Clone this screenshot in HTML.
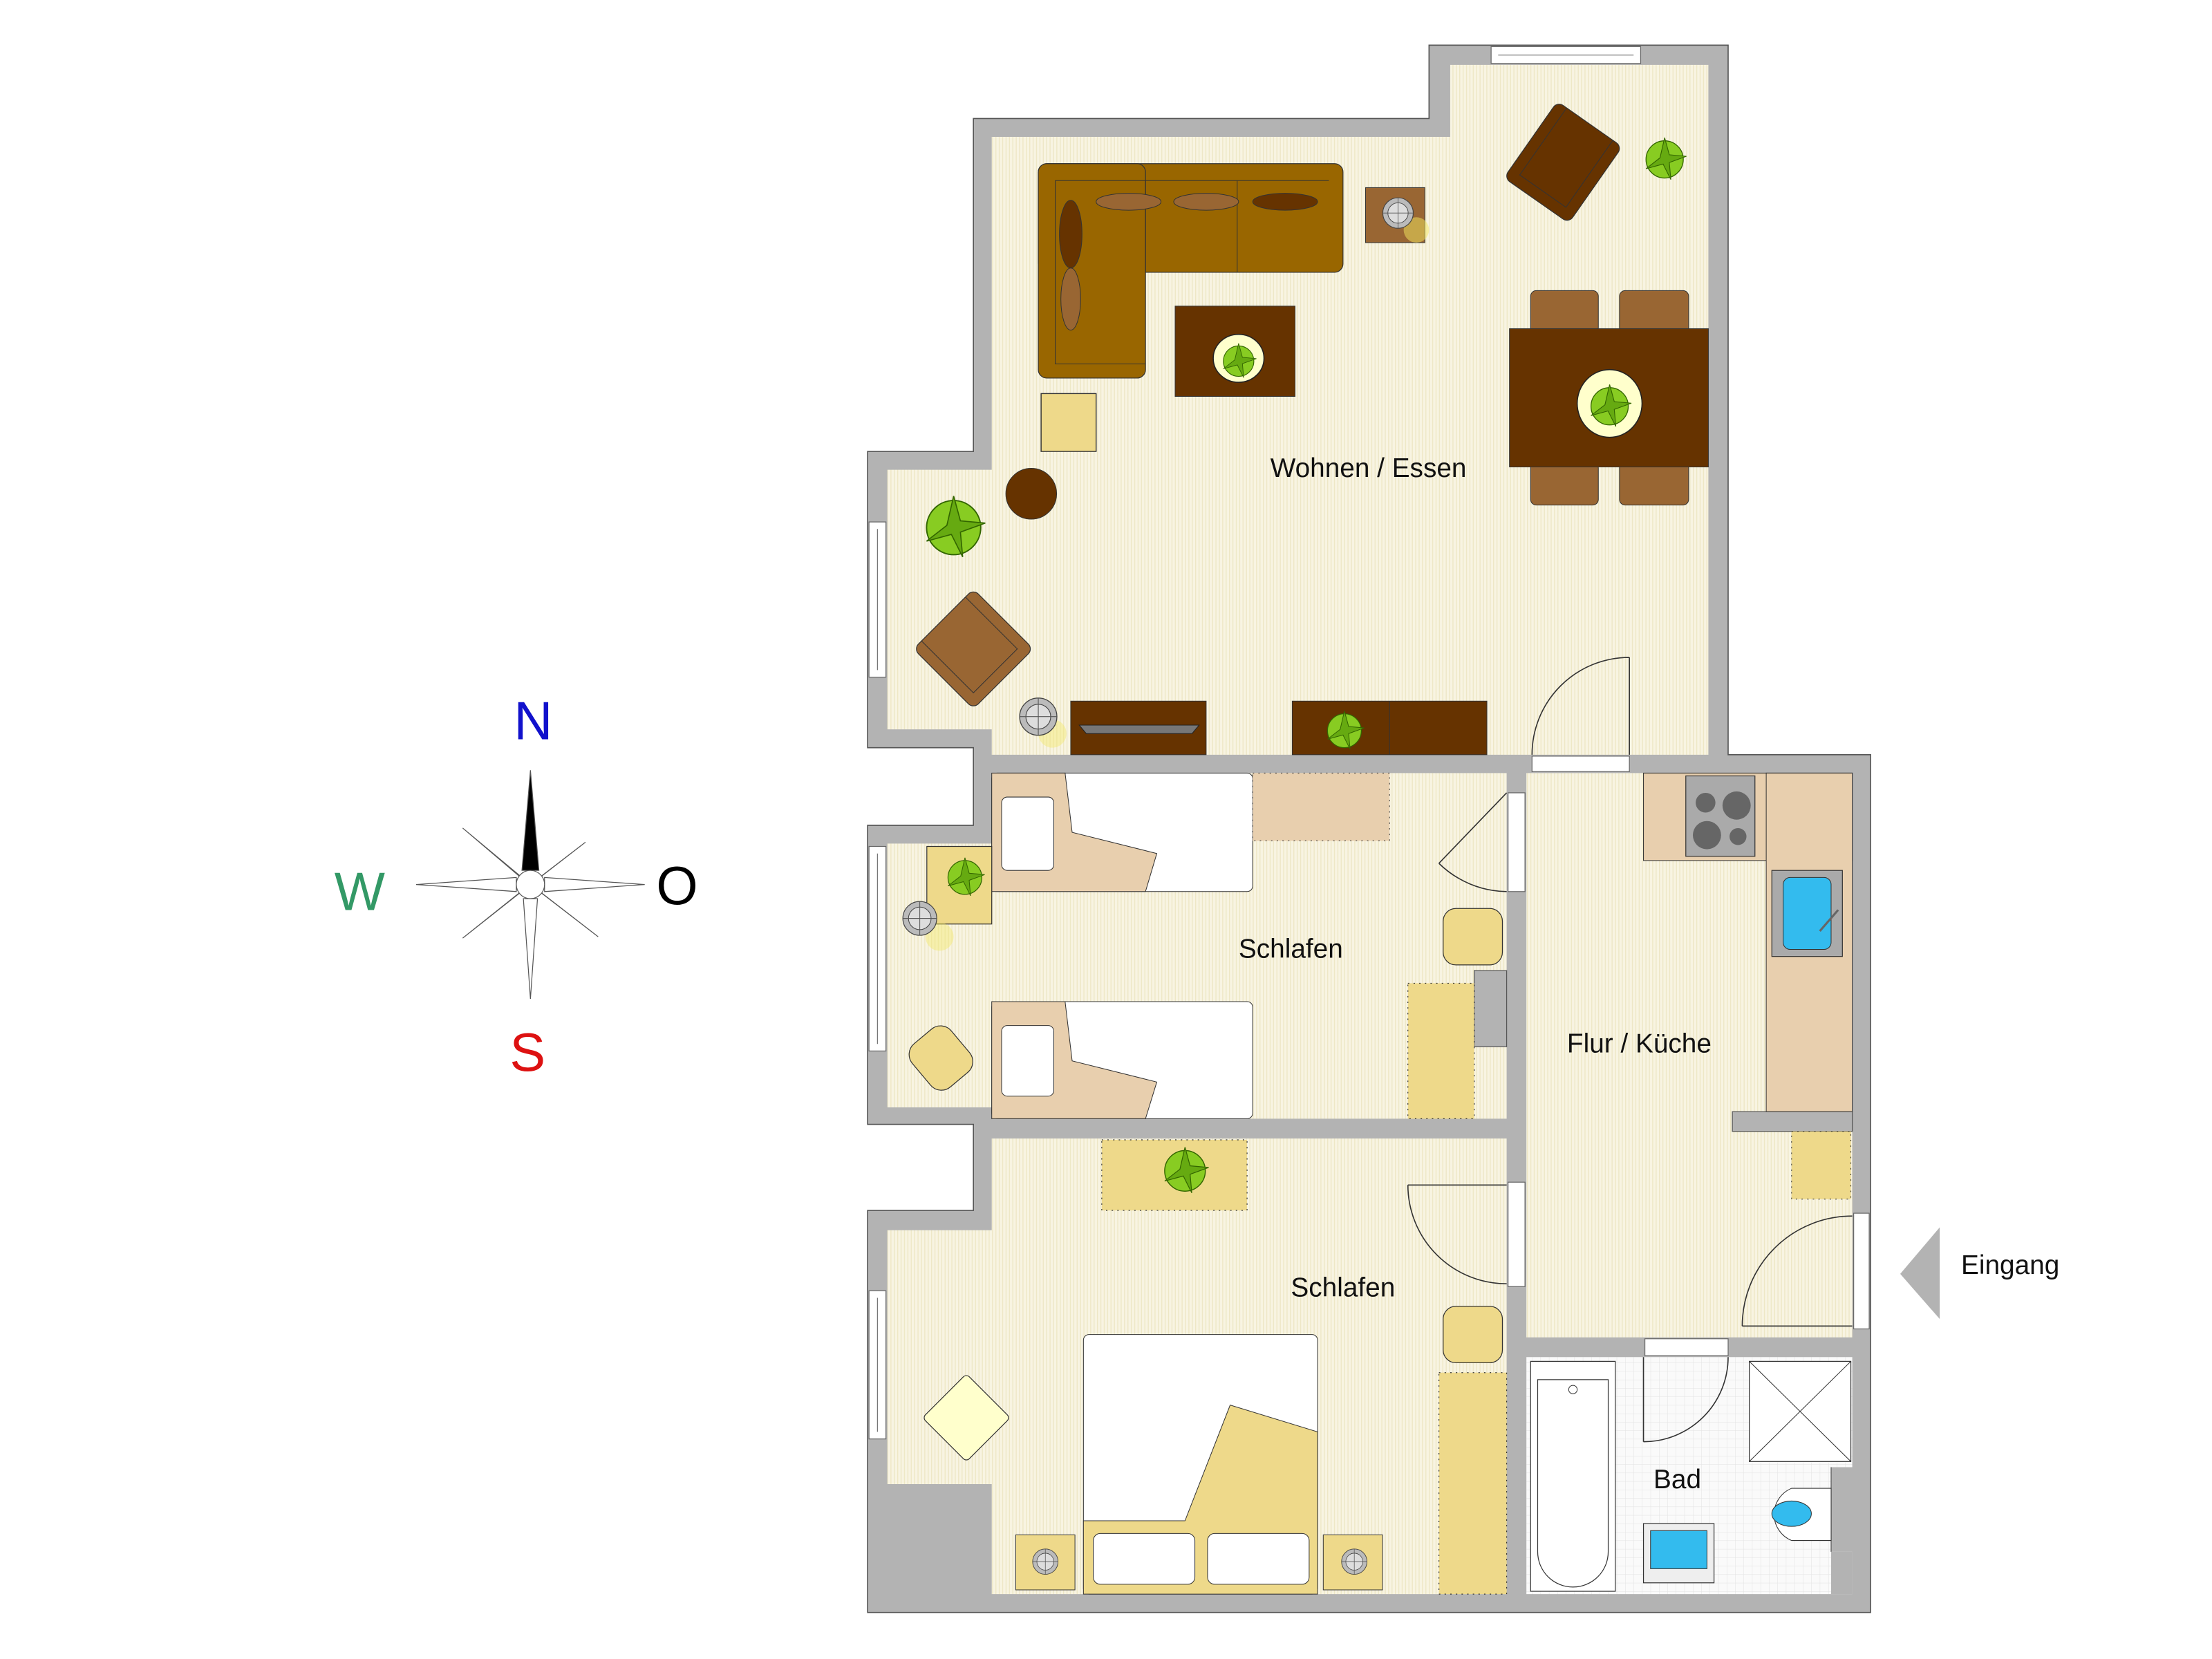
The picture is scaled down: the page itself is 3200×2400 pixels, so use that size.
<!DOCTYPE html>
<html><head><meta charset="utf-8"><style>
html,body{margin:0;padding:0;background:#fff;}
svg{display:block;}
text{font-family:"Liberation Sans",sans-serif;}
</style></head><body>
<svg width="3200" height="2400" viewBox="0 0 1568 1176" xmlns="http://www.w3.org/2000/svg">
<defs>
<pattern id="fl" width="2.4" height="10" patternUnits="userSpaceOnUse">
<rect width="2.4" height="10" fill="#f8f4e2"/><rect width="0.7" height="10" fill="#eee7c6"/>
</pattern>
<pattern id="tile" width="6" height="6" patternUnits="userSpaceOnUse">
<rect width="6" height="6" fill="#fafafa"/><path d="M0 0H6M0 0V6" stroke="#e2e2e2" stroke-width="0.5"/>
</pattern>
<g id="plant">
<circle r="12" fill="#88cc22" stroke="#336600" stroke-width="0.6"/>
<path d="M0-14 L3-3 L14-2 L3 2 L4 13 L-1 3 L-12 6 L-3 -1Z" fill="#66aa11" stroke="#336600" stroke-width="0.5"/>
</g>
<g id="lamp">
<circle r="12" fill="#bbb" stroke="#444" stroke-width="0.6"/>
<circle r="8" fill="#ddd" stroke="#444" stroke-width="0.5"/>
<path d="M-12 0H12M0-12V12" stroke="#555" stroke-width="0.5"/>
</g>
</defs>

<path d="M690 84 H1013 V32 H1225 V535 H1326 V1143 H615 V858 H690 V797 H615 V585 H690 V530 H615 V320 H690 Z" fill="#b3b3b3" stroke="#555" stroke-width="0.8"/>

<path d="M703 97 H1028 V46 H1211 V535 H703 V517 H629 V333 H703 Z" fill="url(#fl)"/>
<path d="M703 548 H1068 V793 H703 V785 H629 V598 H703 Z" fill="url(#fl)"/>
<path d="M703 807 H1068 V1130 H703 V1052 H629 V872 H703 Z" fill="url(#fl)"/>
<rect x="1082" y="548" width="231" height="400" fill="url(#fl)"/>
<path d="M1082 962 H1313 V1040 H1298 V1100 H1313 V1130 H1082 Z" fill="url(#tile)"/>
<path d="M1298 1040 V1100" stroke="#555" stroke-width="0.6"/>
<rect x="1045" y="688" width="23" height="54" fill="#b3b3b3" stroke="#555" stroke-width="0.6"/>
<rect x="1228" y="788" width="85" height="14" fill="#b3b3b3" stroke="#555" stroke-width="0.6"/>
<rect x="1298" y="1100" width="15" height="30" fill="#b3b3b3"/>

<g fill="#fff" stroke="#666" stroke-width="0.6">
<rect x="1057" y="33" width="106" height="12"/>
<rect x="616" y="370" width="12" height="110"/>
<rect x="616" y="600" width="12" height="145"/>
<rect x="616" y="915" width="12" height="105"/>
<rect x="1086" y="536" width="69" height="11"/>
<rect x="1069" y="562" width="12" height="70"/>
<rect x="1069" y="838" width="12" height="74"/>
<rect x="1314" y="860" width="11" height="82"/>
<rect x="1166" y="949" width="59" height="12"/>
</g>
<path d="M1062 39H1158M622 375V475M622 605V740M622 920V1015" stroke="#777" stroke-width="0.6"/>

<rect x="736" y="116" width="216" height="77" rx="6" fill="#996600" stroke="#333" stroke-width="0.6"/>
<rect x="736" y="116" width="76" height="152" rx="6" fill="#996600" stroke="#333" stroke-width="0.6"/>
<path d="M748 128 H942 M812 128V193 M877 128V193 M748 128V258 H812" fill="none" stroke="#333" stroke-width="0.5"/>
<ellipse cx="800" cy="143" rx="23" ry="6" fill="#996633" stroke="#333" stroke-width="0.5"/>
<ellipse cx="855" cy="143" rx="23" ry="6" fill="#996633" stroke="#333" stroke-width="0.5"/>
<ellipse cx="911" cy="143" rx="23" ry="6" fill="#663300" stroke="#333" stroke-width="0.5"/>
<ellipse cx="759" cy="166" rx="8" ry="24" fill="#663300" stroke="#333" stroke-width="0.5"/>
<ellipse cx="759" cy="212" rx="7" ry="22" fill="#996633" stroke="#333" stroke-width="0.5"/>
<rect x="968" y="133" width="42" height="39" fill="#996633" stroke="#333" stroke-width="0.5"/>
<circle cx="1004" cy="163" r="9" fill="#f3e860" opacity="0.5"/>
<use href="#lamp" transform="translate(991,151) scale(0.9)"/>
<rect x="833" y="217" width="85" height="64" fill="#663300" stroke="#333" stroke-width="0.5"/>
<ellipse cx="878" cy="254" rx="18" ry="17" fill="#ffffcc" stroke="#222" stroke-width="0.8"/>
<use href="#plant" transform="translate(878,256) scale(0.9)"/>
<rect x="738" y="279" width="39" height="41" fill="#eed98a" stroke="#333" stroke-width="0.7"/>
<circle cx="731" cy="350" r="18" fill="#663300" stroke="#333" stroke-width="0.5"/>
<rect x="1085" y="206" width="48" height="30" rx="4" fill="#996633" stroke="#333" stroke-width="0.5"/>
<rect x="1148" y="206" width="49" height="30" rx="4" fill="#996633" stroke="#333" stroke-width="0.5"/>
<rect x="1085" y="328" width="48" height="30" rx="4" fill="#996633" stroke="#333" stroke-width="0.5"/>
<rect x="1148" y="328" width="49" height="30" rx="4" fill="#996633" stroke="#333" stroke-width="0.5"/>
<rect x="1070" y="233" width="141" height="98" fill="#663300" stroke="#333" stroke-width="0.5"/>
<ellipse cx="1141" cy="286" rx="23" ry="24" fill="#ffffcc" stroke="#222" stroke-width="0.8"/>
<use href="#plant" transform="translate(1141,288) scale(1.1)"/>
<g transform="translate(1108,115) rotate(35)"><rect x="-28" y="-33" width="56" height="66" rx="5" fill="#663300" stroke="#333" stroke-width="0.6"/><path d="M-20 -33V25H20V-33" fill="none" stroke="#333" stroke-width="0.5"/></g>
<g transform="translate(690,460) rotate(-45)"><rect x="-30" y="-30" width="60" height="60" rx="5" fill="#996633" stroke="#333" stroke-width="0.6"/><path d="M-22 -30V22H22V-30" fill="none" stroke="#333" stroke-width="0.5"/></g>
<use href="#plant" transform="translate(1180,113) scale(1.1)"/>
<use href="#plant" transform="translate(676,374) scale(1.6)"/>
<circle cx="746" cy="520" r="10" fill="#f3e860" opacity="0.4"/>
<use href="#lamp" transform="translate(736,508) scale(1.1)"/>
<rect x="759" y="497" width="96" height="38" fill="#663300" stroke="#333" stroke-width="0.5"/>
<path d="M765 514 H850 L845 520 H770Z" fill="#777" stroke="#222" stroke-width="0.5"/>
<rect x="916" y="497" width="138" height="38" fill="#663300" stroke="#333" stroke-width="0.5"/>
<path d="M985 497V535" stroke="#333" stroke-width="0.5"/>
<use href="#plant" transform="translate(953,518) scale(1.0)"/>
<path d="M1155 466 V535 M1155 466 A69 69 0 0 0 1086 535" fill="none" stroke="#333" stroke-width="0.8"/>

<rect x="703" y="548" width="185" height="84" rx="4" fill="#fff" stroke="#333" stroke-width="0.5"/>
<path d="M703 548 H755 L760 590 L820 605 L812 632 H703Z" fill="#e8cfae" stroke="#333" stroke-width="0.5"/>
<rect x="710" y="565" width="37" height="52" rx="4" fill="#fff" stroke="#333" stroke-width="0.5"/>
<rect x="703" y="710" width="185" height="83" rx="4" fill="#fff" stroke="#333" stroke-width="0.5"/>
<path d="M703 710 H755 L760 752 L820 767 L812 793 H703Z" fill="#e8cfae" stroke="#333" stroke-width="0.5"/>
<rect x="710" y="727" width="37" height="50" rx="4" fill="#fff" stroke="#333" stroke-width="0.5"/>
<rect x="888" y="548" width="97" height="48" fill="#e8cfae" stroke="#333" stroke-width="0.5" stroke-dasharray="1 3"/>
<rect x="657" y="600" width="46" height="55" fill="#eed98a" stroke="#333" stroke-width="0.6"/>
<use href="#plant" transform="translate(684,622)"/>
<circle cx="666" cy="664" r="10" fill="#f3e860" opacity="0.4"/>
<use href="#lamp" transform="translate(652,651)"/>
<g transform="translate(667,750) rotate(-40)"><rect x="-18" y="-20" width="36" height="40" rx="10" fill="#eed98a" stroke="#333" stroke-width="0.6"/></g>
<rect x="1023" y="644" width="42" height="40" rx="9" fill="#eed98a" stroke="#333" stroke-width="0.6"/>
<rect x="998" y="697" width="47" height="96" fill="#eed98a" stroke="#333" stroke-width="0.6" stroke-dasharray="1 3"/>
<path d="M1068 562 L1020 612 M1020 612 A70 70 0 0 0 1068 632" fill="none" stroke="#333" stroke-width="0.8"/>

<rect x="781" y="808" width="103" height="50" fill="#eed98a" stroke="#333" stroke-width="0.6" stroke-dasharray="1 3"/>
<use href="#plant" transform="translate(840,830) scale(1.2)"/>
<path d="M998 840 H1068 M998 840 A70 70 0 0 0 1068 910" fill="none" stroke="#333" stroke-width="0.8"/>
<rect x="1023" y="926" width="42" height="40" rx="9" fill="#eed98a" stroke="#333" stroke-width="0.6"/>
<rect x="1020" y="973" width="48" height="157" fill="#eed98a" stroke="#333" stroke-width="0.6" stroke-dasharray="1 3"/>
<rect x="768" y="946" width="166" height="184" rx="4" fill="#fff" stroke="#333" stroke-width="0.5"/>
<path d="M768 1078 H840 L872 996 L934 1015 V1130 H768Z" fill="#eed98a" stroke="#333" stroke-width="0.5"/>
<rect x="775" y="1087" width="72" height="36" rx="5" fill="#fff" stroke="#333" stroke-width="0.5"/>
<rect x="856" y="1087" width="72" height="36" rx="5" fill="#fff" stroke="#333" stroke-width="0.5"/>
<rect x="720" y="1088" width="42" height="39" fill="#eed98a" stroke="#333" stroke-width="0.5"/>
<rect x="938" y="1088" width="42" height="39" fill="#eed98a" stroke="#333" stroke-width="0.5"/>
<use href="#lamp" transform="translate(741,1107) scale(0.75)"/>
<use href="#lamp" transform="translate(960,1107) scale(0.75)"/>
<g transform="translate(685,1005) rotate(45)"><rect x="-22" y="-22" width="44" height="44" rx="3" fill="#ffffcc" stroke="#333" stroke-width="0.6"/></g>

<rect x="1165" y="548" width="148" height="62" fill="#e8cfae" stroke="#333" stroke-width="0.5"/>
<rect x="1252" y="548" width="61" height="240" fill="#e8cfae" stroke="#333" stroke-width="0.5"/>
<rect x="1195" y="550" width="49" height="57" fill="#aaa" stroke="#333" stroke-width="0.6"/>
<circle cx="1209" cy="569" r="7" fill="#666"/><circle cx="1231" cy="571" r="10" fill="#666"/>
<circle cx="1210" cy="592" r="10" fill="#666"/><circle cx="1232" cy="593" r="6" fill="#666"/>
<rect x="1256" y="617" width="50" height="61" fill="#aaa" stroke="#333" stroke-width="0.6"/>
<rect x="1264" y="622" width="34" height="51" rx="5" fill="#33bbee" stroke="#333" stroke-width="0.5"/>
<path d="M1290 660 L1303 645" stroke="#666" stroke-width="1.5"/>
<rect x="1270" y="802" width="42" height="48" fill="#eed98a" stroke="#333" stroke-width="0.5" stroke-dasharray="1 3"/>
<path d="M1235 940 H1313 M1235 940 A78 78 0 0 1 1313 862" fill="none" stroke="#333" stroke-width="0.8"/>

<rect x="1085" y="965" width="60" height="163" fill="#fff" stroke="#333" stroke-width="0.6"/>
<path d="M1090 978 H1140 V1100 A25 25 0 0 1 1090 1100 Z" fill="#fff" stroke="#333" stroke-width="0.6"/>
<circle cx="1115" cy="985" r="3" fill="none" stroke="#333" stroke-width="0.5"/>
<rect x="1240" y="965" width="72" height="71" fill="#fff" stroke="#333" stroke-width="0.6"/>
<path d="M1240 965 L1312 1036 M1312 965 L1240 1036" stroke="#333" stroke-width="0.5"/>
<path d="M1298 1055 H1270 A20 20 0 0 0 1270 1092 H1298 Z" fill="#fff" stroke="#333" stroke-width="0.5"/>
<ellipse cx="1270" cy="1073" rx="14" ry="9" fill="#33bbee" stroke="#333" stroke-width="0.5"/>
<rect x="1165" y="1080" width="50" height="42" fill="#eee" stroke="#333" stroke-width="0.6"/>
<rect x="1170" y="1085" width="40" height="27" fill="#33bbee" stroke="#333" stroke-width="0.5"/>
<path d="M1165 962 V1022 M1165 1022 A60 60 0 0 0 1225 962" fill="none" stroke="#333" stroke-width="0.8"/>

<g font-size="19" fill="#111" text-anchor="middle">
<text x="970" y="338">Wohnen / Essen</text>
<text x="915" y="679">Schlafen</text>
<text x="1162" y="746">Flur / Küche</text>
<text x="952" y="919">Schlafen</text>
<text x="1189" y="1055">Bad</text>
<text x="1425" y="903">Eingang</text>
</g>
<path d="M1375 870 V935 L1347 903 Z" fill="#b3b3b3"/>

<g stroke="#555" stroke-width="0.6" fill="#fff">
<path d="M376 627 L328 587 L368 621Z M376 627 L415 597 L384 621Z M376 627 L328 665 L368 633Z M376 627 L424 664 L384 633Z"/>
<path d="M295 627 L366 622 V632Z M457 627 L386 622 V632Z M376 708 L371 637 H381Z"/>
<path d="M376 546 L370 617 H382Z" fill="#000"/>
<circle cx="376" cy="627" r="10"/>
</g>
<g font-size="38" text-anchor="middle">
<text x="378" y="524" fill="#1111cc">N</text>
<text x="255" y="645" fill="#339966">W</text>
<text x="480" y="641" fill="#000">O</text>
<text x="374" y="759" fill="#dd1111">S</text>
</g>
</svg>
</body></html>
